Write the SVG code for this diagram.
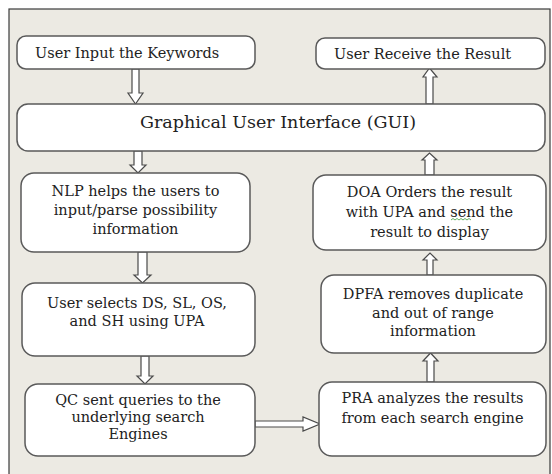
<svg xmlns="http://www.w3.org/2000/svg" width="552" height="474" viewBox="0 0 552 474">
<style>
.box{fill:#ffffff;stroke:#5a5a5a;stroke-width:1.5}
.arr{fill:#ffffff;stroke:#4a4a4a;stroke-width:1.2;stroke-linejoin:miter}
text{font-family:'DejaVu Serif','Liberation Serif',serif;fill:#222222}
.t{font-size:14.5px;text-anchor:middle}
.tl{font-size:14.5px}
.g{font-size:17.5px;text-anchor:middle}
</style>
<rect x="0" y="0" width="552" height="474" fill="#ffffff"/>
<rect x="9" y="9" width="541" height="470" fill="#eceae3" stroke="#3a3a3a" stroke-width="1.2"/>

<g id="connectors">
<polygon class="arr" points="132,69 139,69 139,93 143,93 135.5,104 128,93 132,93"/>
<polygon class="arr" points="134,151 142,151 142,165 146,165 138,173 130,165 134,165"/>
<polygon class="arr" points="138,252 147,252 147,275 151,275 142.5,283 134,275 138,275"/>
<polygon class="arr" points="141,356 149,356 149,376 153,376 145,384 137,376 141,376"/>
<polygon class="arr" points="255,421 303,421 303,417 320,424 303,431 303,427 255,427"/>
<polygon class="arr" points="427,382 434,382 434,361 438,361 430.5,353 423,361 427,361"/>
<polygon class="arr" points="427,275 433,275 433,260 437,260 430,253 423,260 427,260"/>
<polygon class="arr" points="425,175 434,175 434,160 437,160 429.5,153 422,160 425,160"/>
<polygon class="arr" points="426,104 433,104 433,77 437,77 429.5,68 423,77 426,77"/>
</g>

<g id="user-input">
<rect class="box" x="17" y="36" width="238" height="33" rx="9"/>
<text class="tl" x="35" y="58">User Input the Keywords</text>
</g>

<g id="user-receive">
<rect class="box" x="316" y="38" width="229" height="31" rx="9"/>
<text class="tl" x="334" y="59">User Receive the Result</text>
</g>

<g id="gui">
<rect class="box" x="17" y="104" width="528" height="47" rx="11"/>
<text class="g" x="278" y="128">Graphical User Interface (GUI)</text>
</g>

<g id="nlp">
<rect class="box" x="21" y="173" width="229" height="79" rx="13"/>
<text class="t" x="135.5" y="196">NLP helps the users to</text>
<text class="t" x="135.5" y="215">input/parse possibility</text>
<text class="t" x="135.5" y="234">information</text>
</g>

<g id="user-selects">
<rect class="box" x="22" y="283" width="233" height="73" rx="13"/>
<text class="t" x="137" y="308">User selects DS, SL, OS,</text>
<text class="t" x="137" y="326">and SH using UPA</text>
</g>

<g id="qc">
<rect class="box" x="25" y="384" width="230" height="72" rx="13"/>
<text class="t" x="138" y="405">QC sent queries to the</text>
<text class="t" x="138" y="422">underlying search</text>
<text class="t" x="138" y="439">Engines</text>
</g>

<g id="pra">
<rect class="box" x="319" y="382" width="227" height="74" rx="13"/>
<text class="t" x="432.5" y="403">PRA analyzes the results</text>
<text class="t" x="432.5" y="423">from each search engine</text>
</g>

<g id="dpfa">
<rect class="box" x="321" y="275" width="225" height="78" rx="13"/>
<text class="t" x="433" y="299">DPFA removes duplicate</text>
<text class="t" x="433" y="318">and out of range</text>
<text class="t" x="433" y="336">information</text>
</g>

<g id="doa">
<rect class="box" x="313" y="175" width="233" height="75" rx="13"/>
<text class="t" x="429.5" y="197">DOA Orders the result</text>
<text class="t" x="429.5" y="217">with UPA and send the</text>
<text class="t" x="429.5" y="237">result to display</text>
<polyline points="451,220 453,218.5 455,220 457,218.5 459,220 461,218.5 463,220 465,218.5 467,220 469,218.5 471,220" fill="none" stroke="#3c9c3c" stroke-width="0.8"/>
</g>
</svg>
